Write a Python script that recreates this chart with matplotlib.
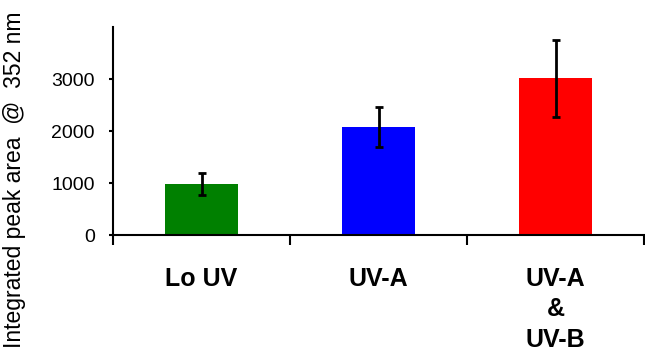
import matplotlib
matplotlib.use("Agg")
import matplotlib.pyplot as plt
import numpy as np

categories = ["Lo UV", "UV-A", "UV-A\n&\nUV-B"]
values = [980, 2080, 3010]
errors = [215, 390, 740]
colors = ["#008000", "#0000FF", "#FF0000"]
yticks = [0, 1000, 2000, 3000]

plt.rcParams['font.family'] = ['Liberation Sans', 'DejaVu Sans']

fig = plt.figure(figsize=(6.45, 3.52), dpi=100)
ax = fig.add_axes([113/645, 1-235/352, 531/645, 208/352])

x = np.arange(len(categories))
ax.bar(x, values, width=0.407, color=colors, zorder=2)
ax.errorbar(x, values, yerr=errors, fmt='none', ecolor='black',
            elinewidth=2, capsize=3, capthick=2, zorder=3)

ax.set_xlim(-0.5, len(categories) - 0.5)
ax.set_ylim(0, 4000)
ax.set_yticks(yticks)
ax.set_yticklabels([str(t) for t in yticks], fontsize=14)
ax.tick_params(axis='y', direction='out', length=3, width=1.5, pad=10)

ax.set_xticks(x)
ax.set_xticklabels(categories, fontsize=18, fontweight='bold', linespacing=1.34)
ax.tick_params(axis='x', which='major', length=0, pad=23)
ax.set_xticks(np.arange(-0.5, len(categories)), minor=True)
ax.tick_params(axis='x', which='minor', direction='out', length=7, width=1.5)
for lab in ax.get_xticklabels():
    lab.set_verticalalignment('top')

for s in ['top', 'right']:
    ax.spines[s].set_visible(False)
for s in ['left', 'bottom']:
    ax.spines[s].set_linewidth(1.5)

fig.text(15/645, 1-180/352, "Integrated peak area  @  352 nm", rotation=90,
         fontsize=16.5, ha='center', va='center')

fig.savefig("out.png", dpi=100)
